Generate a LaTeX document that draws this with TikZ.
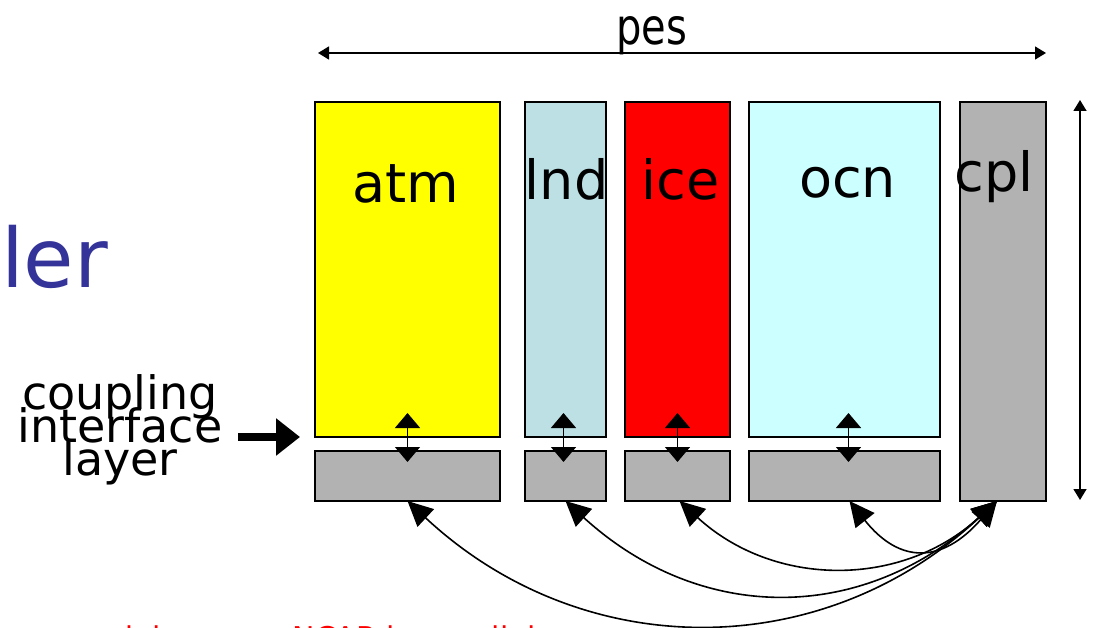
\documentclass[tikz,border=0pt]{standalone}
\usepackage{fontspec}
\setmainfont{DejaVu Sans}
\newfontfamily\narrowfont[FakeStretch=0.8]{DejaVu Sans}
\usetikzlibrary{arrows.meta,positioning,calc}
\definecolor{Atm}{HTML}{FFFF00}
\definecolor{Lnd}{HTML}{BCE0E4}
\definecolor{Ice}{HTML}{FF0000}
\definecolor{Ocn}{HTML}{CCFFFF}
\definecolor{Cpl}{HTML}{B2B2B2}
\definecolor{Title}{HTML}{333399}

\begin{document}
\begin{tikzpicture}[x=1pt,y=-1pt,
    comp/.style={draw,line width=1.5pt,minimum height=335pt,inner sep=0pt,outer sep=0pt},
    layer/.style={draw,line width=1.5pt,fill=Cpl,minimum height=50pt,inner sep=0pt,outer sep=0pt},
    lab/.style={font=\fontsize{54}{60}\selectfont,inner sep=0pt,anchor=base},
    dbl/.style={{Triangle[length=15pt,width=25pt]}-{Triangle[length=15pt,width=25pt]},line width=1.5pt},
    arc/.style={{Triangle[length=25pt,width=24pt]}-{Triangle[length=25pt,width=24pt]},line width=1.6pt},
    dim/.style={{Triangle[length=11pt,width=13pt]}-{Triangle[length=11pt,width=13pt]},line width=1.5pt},
    fat/.style={-{Triangle[length=24pt,width=36pt]},line width=8pt}]
    \useasboundingbox (0,0) rectangle (1095,628);
    \clip (0,0) rectangle (1095,628);
    % model components
    \node[comp,fill=Atm,minimum width=185pt] (atm) at (407.5,269.5) {};
    \node[comp,fill=Lnd,minimum width=81pt,right=25pt of atm] (lnd) {};
    \node[comp,fill=Ice,minimum width=105pt,right=19pt of lnd] (ice) {};
    \node[comp,fill=Ocn,minimum width=191pt,right=19pt of ice] (ocn) {};
    \node[comp,fill=Cpl,minimum width=86pt,minimum height=399pt,right=20pt of ocn.north east,anchor=north west] (cpl) {};
    \node[lab] (atmT) at ([xshift=-2pt,yshift=-101pt]atm.north) {atm};
    \node[lab] (lndT) at ([xshift=1pt,yshift=-98pt]lnd.north) {lnd};
    \node[lab] (iceT) at ([xshift=3pt,yshift=-98pt]ice.north) {ice};
    \node[lab] (ocnT) at ([xshift=3pt,yshift=-96pt]ocn.north) {ocn};
    \node[lab] (cplT) at ([xshift=-9pt,yshift=-90pt]cpl.north) {cpl};
    % coupling interface layer
    \node[layer,minimum width=185pt,below=14pt of atm] (atmI) {};
    \node[layer,minimum width=81pt,below=14pt of lnd] (lndI) {};
    \node[layer,minimum width=105pt,below=14pt of ice] (iceI) {};
    \node[layer,minimum width=191pt,below=14pt of ocn] (ocnI) {};
    \draw[dbl] ([yshift=24pt]atm.south) -- ([yshift=-11pt]atmI.north);
    \draw[dbl] ([xshift=-2pt,yshift=24pt]lnd.south) -- ([xshift=-2pt,yshift=-11pt]lndI.north);
    \draw[dbl] ([yshift=24pt]ice.south) -- ([yshift=-11pt]iceI.north);
    \draw[dbl] ([xshift=4pt,yshift=24pt]ocn.south) -- ([xshift=4pt,yshift=-11pt]ocnI.north);
    % exchanges through the coupler
    \draw[arc] ([xshift=5pt]ocnI.south) .. controls +(50,63) and +(-55,63) .. ([xshift=-6pt]cpl.south);
    \draw[arc] ([xshift=2pt]iceI.south) .. controls +(95,87) and +(-95,87) .. ([xshift=-6pt]cpl.south);
    \draw[arc] (lndI.south) .. controls +(135,123) and +(-135,123) .. ([xshift=-6pt]cpl.south);
    \draw[arc] (atmI.south) .. controls +(175,163) and +(-175,163) .. ([xshift=-6pt]cpl.south);
    % extents
    \coordinate (wL) at (318,53);
    \coordinate (wR) at (1046,53);
    \draw[dim] (wL) -- (wR);
    \node[font=\narrowfont\fontsize{50}{56}\selectfont,inner sep=0pt,anchor=base] (pes) at (652,45) {pes};
    \coordinate (hT) at (1080,100);
    \coordinate (hB) at (1080,500);
    \draw[dim] (hT) -- (hB);
    % side labels
    \node[font={\fontsize{46}{33}\selectfont\lineskiplimit=-50pt},align=center,inner sep=0pt] (cil) at (120,430) {coupling\\interface\\layer};
    \draw[fat] ([xshift=-77pt]atm.south west) -- ([xshift=-15pt]atm.south west);
    \node[font=\fontsize{82}{90}\selectfont,text=Title,inner sep=0pt,anchor=base west] (ttl) at (1,288) {ler};
    \node[font=\fontsize{30}{36}\selectfont,text=red,inner sep=0pt,anchor=base west] (note) at (67,648) {models run on NCAR in parallel};
  \end{tikzpicture}
\end{document}
